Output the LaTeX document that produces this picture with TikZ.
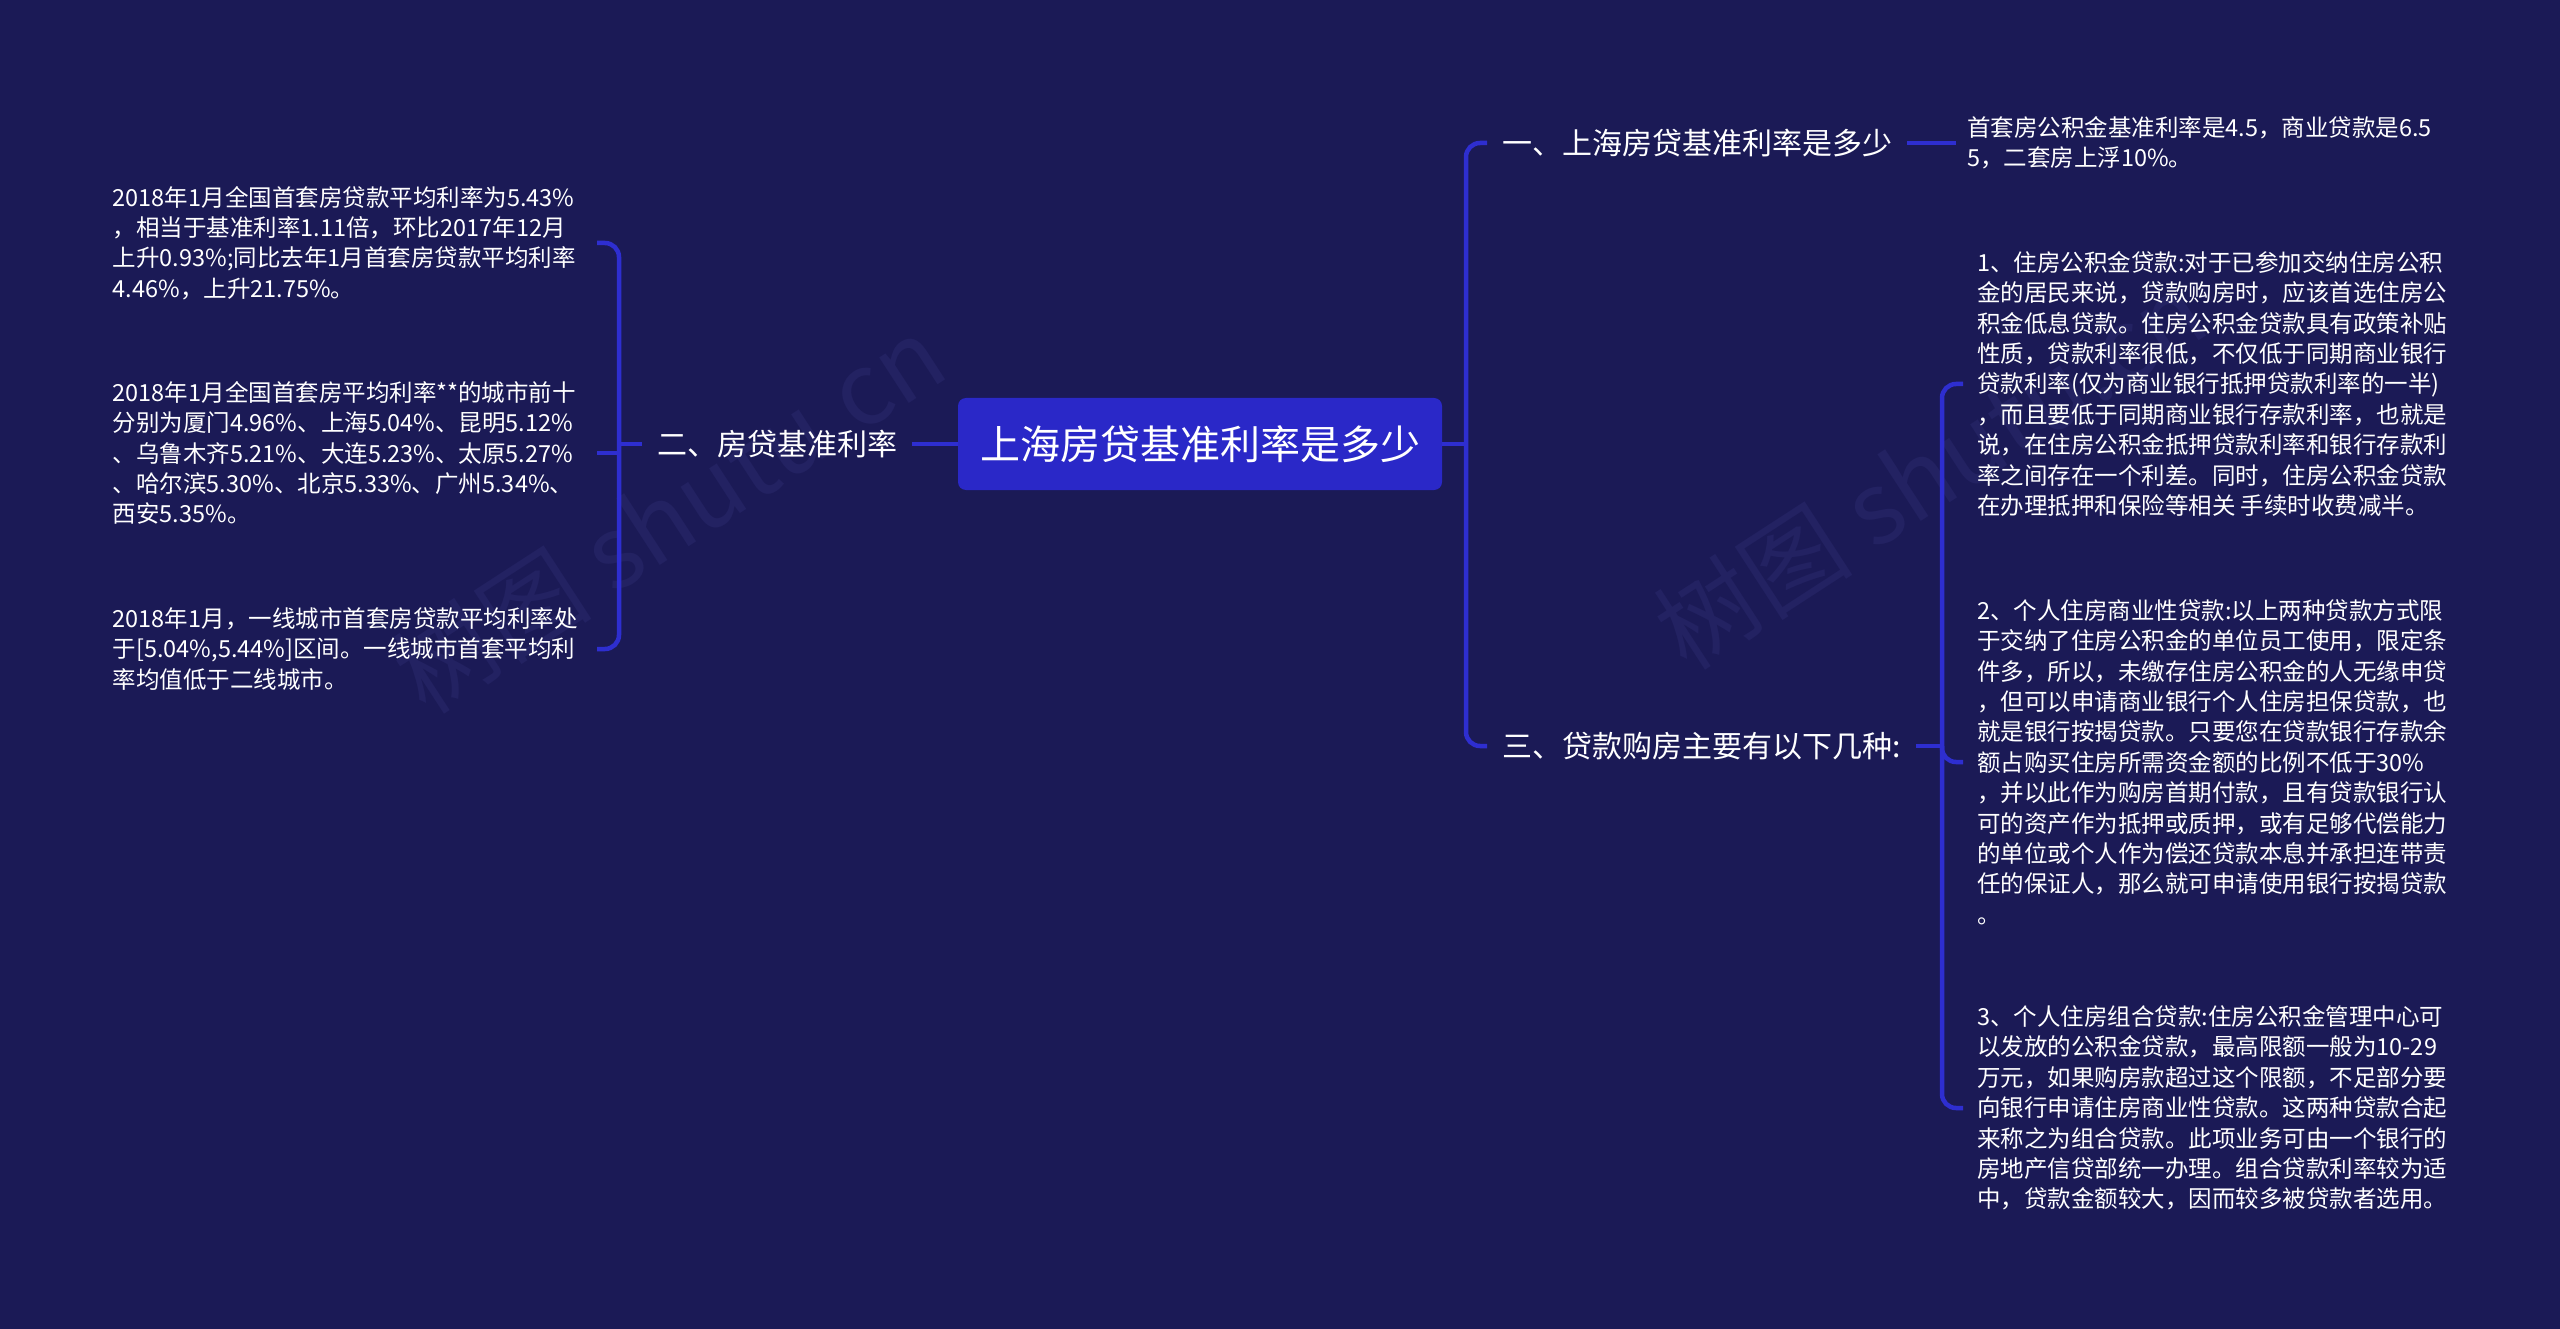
\documentclass[tikz,border=0pt]{standalone}
\usepackage{fontspec}
\setmainfont{Noto Sans CJK SC}
\definecolor{bg}{RGB}{27,26,86}
\definecolor{boxc}{RGB}{42,40,200}
\definecolor{linec}{RGB}{46,46,208}
\definecolor{wmc}{RGB}{35,34,98}
\begin{document}
\begin{tikzpicture}[x=1pt,y=-1pt,
  conn/.style={draw=linec, line width=4.5pt, rounded corners=14pt},
  leaftext/.style={text=white, font=\fontsize{23.5}{30.4}\selectfont, align=left, inner ysep=0pt, inner xsep=14pt},
  lab/.style={text=white, font=\fontsize{30}{36}\selectfont, inner xsep=15pt, inner ysep=0pt},
  wm/.style={text=wmc, font=\fontsize{100}{110}\selectfont, rotate=33}]
\fill[bg] (0,0) rectangle (2560,1329);
\useasboundingbox (0,0) rectangle (2560,1329);

% watermarks
\node[wm] (wm1) at (669,514) {树图 shutu.cn};
\node[wm] (wm2) at (1930,470) {树图 shutu.cn};

% root
\node[fill=boxc, rounded corners=8pt, minimum width=484pt, minimum height=92pt, inner sep=0pt,
      text=white, font=\fontsize{40}{48}\selectfont] (root) at (1200,444) {上海房贷基准利率是多少};

% left side
\node[lab, anchor=west] (lab2) at (642,444) {二、房贷基准利率};
\coordinate (lj) at (619,444);

\node[leaftext, anchor=east, text width=470pt] (lt) at (597,243) {2018年1月全国首套房贷款平均利率为5.43\%\\，相当于基准利率1.11倍，环比2017年12月\\上升0.93\%;同比去年1月首套房贷款平均利率\\4.46\%，上升21.75\%。};
\node[leaftext, anchor=east, text width=470pt] (lm) at (597,453) {2018年1月全国首套房平均利率**的城市前十\\分别为厦门4.96\%、上海5.04\%、昆明5.12\%\\、乌鲁木齐5.21\%、大连5.23\%、太原5.27\%\\、哈尔滨5.30\%、北京5.33\%、广州5.34\%、\\西安5.35\%。};
\node[leaftext, anchor=east, text width=470pt] (lb) at (597,649) {2018年1月，一线城市首套房贷款平均利率处\\于[5.04\%,5.44\%]区间。一线城市首套平均利\\率均值低于二线城市。};

\draw[conn] (root.west) -- (lab2.east);
\draw[conn] (lab2.west) -- (lj);
\draw[conn] (lt.east) -- (lt.east -| lj) -- (lb.east -| lj) -- (lb.east);
\draw[conn] (lm.east) -- (lm.east -| lj);

% right side
\coordinate (rj) at (1466,444);
\node[lab, anchor=west] (lab1) at (1487,143) {一、上海房贷基准利率是多少};
\node[lab, anchor=west] (lab3) at (1487,746) {三、贷款购房主要有以下几种:};

\node[leaftext, anchor=west, inner xsep=11pt] (tr) at (1956,143) {首套房公积金基准利率是4.5，商业贷款是6.5\\5，二套房上浮10\%。};

\coordinate (bj) at (1942,746);
\node[leaftext, anchor=west] (r1) at (1963,384) {1、住房公积金贷款:对于已参加交纳住房公积\\金的居民来说，贷款购房时，应该首选住房公\\积金低息贷款。住房公积金贷款具有政策补贴\\性质，贷款利率很低，不仅低于同期商业银行\\贷款利率(仅为商业银行抵押贷款利率的一半)\\，而且要低于同期商业银行存款利率，也就是\\说，在住房公积金抵押贷款利率和银行存款利\\率之间存在一个利差。同时，住房公积金贷款\\在办理抵押和保险等相关 手续时收费减半。};
\node[leaftext, anchor=west] (r2) at (1963,762) {2、个人住房商业性贷款:以上两种贷款方式限\\于交纳了住房公积金的单位员工使用，限定条\\件多，所以，未缴存住房公积金的人无缘申贷\\，但可以申请商业银行个人住房担保贷款，也\\就是银行按揭贷款。只要您在贷款银行存款余\\额占购买住房所需资金额的比例不低于30\%\\，并以此作为购房首期付款，且有贷款银行认\\可的资产作为抵押或质押，或有足够代偿能力\\的单位或个人作为偿还贷款本息并承担连带责\\任的保证人，那么就可申请使用银行按揭贷款\\。};
\node[leaftext, anchor=west] (r3) at (1963,1108) {3、个人住房组合贷款:住房公积金管理中心可\\以发放的公积金贷款，最高限额一般为10-29\\万元，如果购房款超过这个限额，不足部分要\\向银行申请住房商业性贷款。这两种贷款合起\\来称之为组合贷款。此项业务可由一个银行的\\房地产信贷部统一办理。组合贷款利率较为适\\中，贷款金额较大，因而较多被贷款者选用。};

\draw[conn] (root.east) -- (rj);
\draw[conn] (lab1.west) -- (lab1.west -| rj) -- (lab3.west -| rj) -- (lab3.west);
\draw[conn] (lab1.east) -- (tr.west);
\draw[conn] (lab3.east) -- (bj);
\draw[conn] (r1.west) -- (r1.west -| bj) -- (r3.west -| bj) -- (r3.west);
\draw[conn] (bj) -- (r2.west -| bj) -- (r2.west);
\end{tikzpicture}
\end{document}
